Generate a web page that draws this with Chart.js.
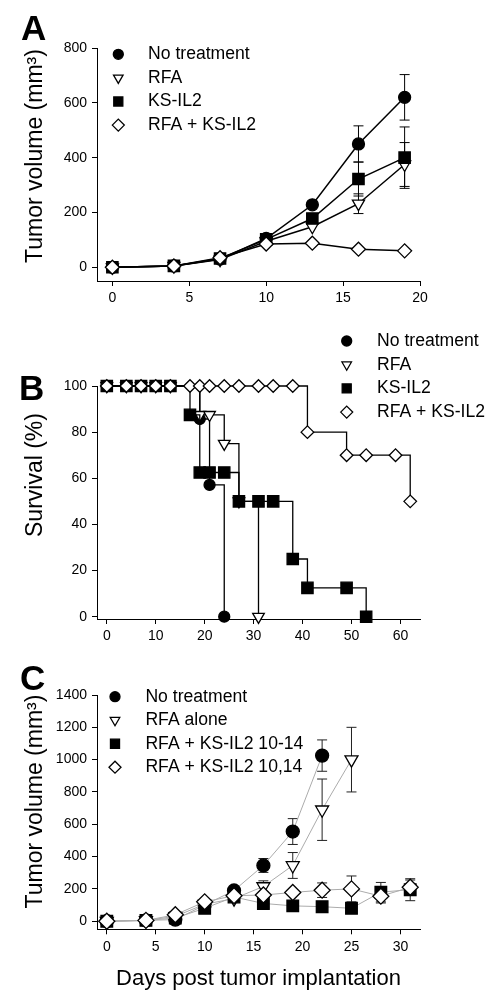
<!DOCTYPE html>
<html><head><meta charset="utf-8">
<script src="https://cdn.jsdelivr.net/npm/chart.js@4.4.1/dist/chart.umd.min.js"></script>
<style>
html,body{margin:0;padding:0;background:#fff;}
#wrap{position:relative;width:497px;height:1003px;overflow:hidden;background:#fff;}
canvas{position:absolute;left:0;}
.lbl{position:absolute;font:bold 35px "Liberation Sans",Arial,sans-serif;line-height:35px;color:#000;}
</style></head><body>
<div id="wrap">
<canvas id="cA" width="497" height="320" style="top:0;width:497px;height:320px"></canvas>
<canvas id="cB" width="497" height="340" style="top:320px;width:497px;height:340px"></canvas>
<canvas id="cC" width="497" height="343" style="top:660px;width:497px;height:343px"></canvas>
<div class="lbl" style="left:21px;top:10px">A</div>
<div class="lbl" style="left:19px;top:370px">B</div>
<div class="lbl" style="left:20px;top:660px">C</div>
</div>
<script>
// ---------- Panel A: tumor volume ----------
const daysA = [0, 4, 7, 10, 13, 16, 19];
const A_noTx = [0, 5, 30, 105, 228, 450, 620];
const A_noTxErr = [0, 0, 0, 0, 0, 66, 83];
const A_rfa = [0, 5, 28, 95, 148, 232, 375];
const A_rfaErr = [0, 0, 0, 0, 0, 36, 80];
const A_ks = [0, 5, 32, 102, 178, 322, 400];
const A_ksErr = [0, 0, 0, 0, 0, 62, 112];
const A_combo = [0, 5, 35, 85, 88, 66, 60];
const A_comboErr = [0, 0, 0, 0, 0, 0, 0];
const labelsA = ['No treatment', 'RFA', 'KS-IL2', 'RFA + KS-IL2'];
const xTicksA = [0, 5, 10, 15, 20];
const yTicksA = [0, 200, 400, 600, 800];

// ---------- Panel B: survival ----------
const B_noTxDays = [0, 4, 7, 10, 13, 19, 21, 24];
const B_noTx = [100, 100, 100, 100, 100, 85.7, 57.1, 0];
const B_rfaDays = [0, 4, 7, 10, 13, 19, 21, 24, 27, 31];
const B_rfa = [100, 100, 100, 100, 100, 87.5, 87.5, 75, 50, 0];
const B_ksDays = [0, 4, 7, 10, 13, 17, 19, 21, 24, 27, 31, 34, 38, 41, 49, 53];
const B_ks = [100, 100, 100, 100, 100, 87.5, 62.5, 62.5, 62.5, 50, 50, 50, 25, 12.5, 12.5, 0];
const B_comboDays = [0, 4, 7, 10, 13, 17, 19, 21, 24, 27, 31, 34, 38, 41, 49, 53, 59, 62];
const B_combo = [100, 100, 100, 100, 100, 100, 100, 100, 100, 100, 100, 100, 100, 80, 70, 70, 70, 50];
const labelsB = ['No treatment', 'RFA', 'KS-IL2', 'RFA + KS-IL2'];
const xTicksB = [0, 10, 20, 30, 40, 50, 60];
const yTicksB = [0, 20, 40, 60, 80, 100];

// ---------- Panel C: tumor volume ----------
const C_noTxDays = [0, 4, 7, 10, 13, 16, 19, 22];
const C_noTx = [0, 5, 10, 100, 190, 345, 555, 1025];
const C_noTxErr = [0, 0, 0, 0, 0, 43, 80, 97];
const C_rfaDays = [0, 4, 7, 10, 13, 16, 19, 22, 25];
const C_rfa = [0, 5, 30, 105, 140, 215, 345, 690, 1000];
const C_rfaErr = [0, 0, 0, 0, 0, 35, 80, 190, 200];
const C_ksDays = [0, 4, 7, 10, 13, 16, 19, 22, 25, 28, 31];
const C_ks = [0, 5, 20, 80, 150, 110, 95, 90, 80, 180, 195];
const C_ksErr = [0, 0, 0, 0, 0, 0, 0, 0, 20, 60, 68];
const C_comboDays = [0, 4, 7, 10, 13, 16, 19, 22, 25, 28, 31];
const C_combo = [0, 5, 40, 120, 158, 162, 178, 192, 200, 155, 210];
const C_comboErr = [0, 0, 0, 0, 0, 0, 0, 45, 80, 42, 45];
const labelsC = ['No treatment', 'RFA alone', 'RFA + KS-IL2 10-14', 'RFA + KS-IL2 10,14'];
const xTicksC = [0, 5, 10, 15, 20, 25, 30];
const yTicksC = [0, 200, 400, 600, 800, 1000, 1200, 1400];

// ---------- rendering ----------
const FONT = "'Liberation Sans', Arial, Helvetica, sans-serif";
const LEGEND_FONT = '17.6px ' + FONT;
const TITLE_FONT = '23px ' + FONT;

const STYLES = [
  {pointStyle: 'circle', pointRotation: 0, bg: '#000'},
  {pointStyle: 'triangle', pointRotation: 180, bg: '#fff'},
  {pointStyle: 'rect', pointRotation: 0, bg: '#000'},
  {pointStyle: 'rectRot', pointRotation: 0, bg: '#fff'}
];

function pts(days, vals) { return days.map((d, i) => ({x: d, y: vals[i]})); }

function makeDs(label, data, idx, radius, lineColor, lineWidth, stepped) {
  const s = STYLES[idx];
  return {
    label, data,
    borderColor: lineColor, borderWidth: lineWidth, tension: 0, stepped: stepped,
    pointStyle: s.pointStyle, pointRotation: s.pointRotation,
    pointBackgroundColor: s.bg, pointBorderColor: '#000', pointBorderWidth: 1.3,
    pointRadius: radius, pointHoverRadius: radius,
    clip: false, order: 3 - idx, fill: false
  };
}

function drawMarker(ctx, style, rotation, r, x, y) {
  if (Chart.helpers && Chart.helpers.drawPoint) {
    Chart.helpers.drawPoint(ctx, {pointStyle: style, rotation: rotation, radius: r, borderWidth: ctx.lineWidth}, x, y);
    return;
  }
  ctx.beginPath(); ctx.arc(x, y, r, 0, Math.PI * 2); ctx.fill(); ctx.stroke();
}

const errorBars = {
  id: 'errorBars',
  beforeDatasetsDraw(chart, args, o) {
    if (!o || !o.errors) return;
    const ctx = chart.ctx, xs = chart.scales.x, ys = chart.scales.y;
    ctx.save();
    ctx.strokeStyle = o.color; ctx.lineWidth = o.width;
    chart.data.datasets.forEach((ds, i) => {
      const e = o.errors[i]; if (!e) return;
      ds.data.forEach((p, j) => {
        const v = e[j]; if (!v) return;
        const x = xs.getPixelForValue(p.x);
        const y1 = ys.getPixelForValue(p.y + v), y2 = ys.getPixelForValue(p.y - v);
        const c = o.cap;
        ctx.beginPath();
        ctx.moveTo(x, y1); ctx.lineTo(x, y2);
        ctx.moveTo(x - c, y1); ctx.lineTo(x + c, y1);
        ctx.moveTo(x - c, y2); ctx.lineTo(x + c, y2);
        ctx.stroke();
      });
    });
    ctx.restore();
  }
};

const markerLegend = {
  id: 'markerLegend',
  afterDraw(chart, args, o) {
    if (!o || o.mx === undefined) return;
    const ctx = chart.ctx;
    ctx.save();
    chart.data.datasets.forEach((ds, i) => {
      const y = o.y + i * o.dy;
      ctx.fillStyle = ds.pointBackgroundColor; ctx.strokeStyle = '#000'; ctx.lineWidth = 1.3;
      drawMarker(ctx, ds.pointStyle, ds.pointRotation, o.radii[i], o.mx, y);
      ctx.fillStyle = '#000'; ctx.font = LEGEND_FONT; ctx.textAlign = 'left'; ctx.textBaseline = 'middle';
      ctx.fillText(ds.label, o.tx, y);
    });
    ctx.restore();
  }
};

const yTitle = {
  id: 'yTitle',
  afterDraw(chart, args, o) {
    if (!o || !o.text) return;
    const ctx = chart.ctx;
    ctx.save();
    ctx.translate(o.x, o.y); ctx.rotate(-Math.PI / 2);
    ctx.font = TITLE_FONT; ctx.fillStyle = '#000'; ctx.textAlign = 'center'; ctx.textBaseline = 'alphabetic';
    ctx.fillText(o.text, 0, 0);
    ctx.restore();
  }
};

function axis(min, max, ticks, size, isX, title) {
  const a = {
    type: 'linear', min: min, max: max,
    grid: {display: true, drawOnChartArea: false, drawTicks: true, tickLength: 5, color: '#000', lineWidth: 1},
    border: {display: true, color: '#000', width: 1},
    ticks: {color: '#000', font: {family: FONT, size: 14}, padding: isX ? 4 : 5, autoSkip: false, maxRotation: 0,
            callback: v => String(v)},
    afterBuildTicks: s => { s.ticks = ticks.map(v => ({value: v})); },
    afterFit: s => { if (isX) s.height = size; else s.width = size; }
  };
  if (title) {
    a.title = {display: true, text: title, color: '#000', font: {family: FONT, size: 22, lineHeight: 1.2},
               padding: {top: 0, bottom: 10.7}};
  }
  return a;
}

function makeChart(id, datasets, opt) {
  return new Chart(document.getElementById(id), {
    type: 'line',
    data: {datasets},
    options: {
      responsive: false, maintainAspectRatio: false, animation: false, devicePixelRatio: 1,
      layout: {padding: {top: opt.top, right: opt.right, left: 0, bottom: 0}},
      events: [],
      scales: {
        x: axis(opt.xMin, opt.xMax, opt.xTicks, opt.xH, true, opt.xTitle),
        y: axis(opt.yMin, opt.yMax, opt.yTicks, 97, false, null)
      },
      plugins: {
        legend: {display: false}, tooltip: {enabled: false},
        errorBars: opt.errors,
        markerLegend: opt.legend,
        yTitle: opt.yTitle
      }
    },
    plugins: [errorBars, markerLegend, yTitle]
  });
}

// Panel A
makeChart('cA', [
  makeDs(labelsA[0], pts(daysA, A_noTx), 0, 6, '#000', 1.5, false),
  makeDs(labelsA[1], pts(daysA, A_rfa), 1, 7, '#000', 1.5, false),
  makeDs(labelsA[2], pts(daysA, A_ks), 2, 8, '#000', 1.5, false),
  makeDs(labelsA[3], pts(daysA, A_combo), 3, 7, '#000', 1.5, false)
], {
  top: 48, right: 77, xH: 39, xMin: -1, xMax: 20, yMin: -50, yMax: 800,
  xTicks: xTicksA, yTicks: yTicksA,
  errors: {errors: [A_noTxErr, A_rfaErr, A_ksErr, A_comboErr], color: '#000', width: 1, cap: 5},
  legend: {mx: 118.3, tx: 148, y: 54.3, dy: 23.6, radii: [5, 5.5, 6.4, 6]},
  yTitle: {text: 'Tumor volume (mm³)', x: 41.7, y: 156}
});

// Panel B
makeChart('cB', [
  makeDs(labelsB[0], pts(B_noTxDays, B_noTx), 0, 5.5, '#000', 1.3, true),
  makeDs(labelsB[1], pts(B_rfaDays, B_rfa), 1, 6.7, '#000', 1.3, true),
  makeDs(labelsB[2], pts(B_ksDays, B_ks), 2, 8, '#000', 1.3, true),
  makeDs(labelsB[3], pts(B_comboDays, B_combo), 3, 6.3, '#000', 1.3, true)
], {
  top: 66, right: 77, xH: 41, xMin: -2, xMax: 64, yMin: -1, yMax: 100,
  xTicks: xTicksB, yTicks: yTicksB,
  errors: null,
  legend: {mx: 346.7, tx: 377, y: 21, dy: 23.7, radii: [5, 5.5, 6.4, 6]},
  yTitle: {text: 'Survival (%)', x: 41.7, y: 155}
});

// Panel C
makeChart('cC', [
  makeDs(labelsC[0], pts(C_noTxDays, C_noTx), 0, 6.5, '#ababab', 1, false),
  makeDs(labelsC[1], pts(C_rfaDays, C_rfa), 1, 7.5, '#ababab', 1, false),
  makeDs(labelsC[2], pts(C_ksDays, C_ks), 2, 8.2, '#ababab', 1, false),
  makeDs(labelsC[3], pts(C_comboDays, C_combo), 3, 8, '#ababab', 1, false)
], {
  top: 35, right: 77, xH: 73.7, xMin: -1, xMax: 32, yMin: -50, yMax: 1400,
  xTicks: xTicksC, yTicks: yTicksC, xTitle: 'Days post tumor implantation',
  errors: {errors: [C_noTxErr, C_rfaErr, C_ksErr, C_comboErr], color: '#222', width: 1, cap: 5},
  legend: {mx: 115, tx: 145.4, y: 36.7, dy: 23.5, radii: [5, 5.5, 6.4, 6]},
  yTitle: {text: 'Tumor volume (mm³)', x: 41.7, y: 141.5}
});
</script>
</body></html>
